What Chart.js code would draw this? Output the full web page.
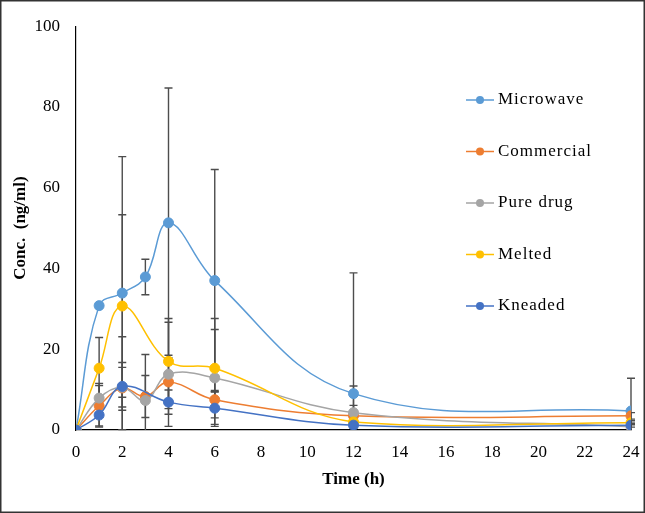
<!DOCTYPE html>
<html>
<head>
<meta charset="utf-8">
<script src="https://cdn.jsdelivr.net/npm/chart.js@4/dist/chart.umd.min.js"></script>
<style>
  body { margin: 0; background: #fff; }
  canvas { display: block; }
</style>
</head>
<body>
<canvas id="chart" width="645" height="513"></canvas>
<script>
// sampling times (h)
const times = [0, 1, 2, 3, 4, 6, 12, 24];

// mean plasma conc. (ng/ml), null = not sampled
const microwave  = [0, 30.8, 33.9, 37.9, 51.3, 37.0, 9.0, 4.7];
const commercial = [0, 6.0, 10.4, 8.3, 11.9, 7.5, 3.5, 3.5];
const pureDrug   = [0, 7.9, 10.6, 7.3, 13.8, 12.9, 4.3, 0.8];
const melted     = [0, 15.3, 30.7, null, 17.0, 15.3, 2.0, 1.8];
const kneaded    = [0, 3.7, 10.8, null, 6.9, 5.4, 1.2, 1.2];

// standard deviations
const microwaveSD  = [0, 0.5, 33.8, 4.4, 33.4, 27.5, 29.9, 8.1];
const commercialSD = [0, 5.0, 12.7, 5.2, 6.6, 2.3, 2.6, 0.8];
const pureDrugSD   = [0, 3.6, 4.9, 11.4, 12.9, 12.0, 6.6, 0.8];
const meltedSD     = [0, 7.6, 22.6, null, 10.6, 12.3, 1.0, 0.5];
const kneadedSD    = [0, 3.0, 5.9, null, 3.0, 4.0, 0.8, 0.5];

const seriesNames = ["Microwave", "Commercial", "Pure drug", "Melted", "Kneaded"];
const seriesColors = ["#5B9BD5", "#ED7D31", "#A5A5A5", "#FFC000", "#4472C4"];
const seriesValues = [microwave, commercial, pureDrug, melted, kneaded];
const seriesSD = [microwaveSD, commercialSD, pureDrugSD, meltedSD, kneadedSD];

const xTicks = [0, 2, 4, 6, 8, 10, 12, 14, 16, 18, 20, 22, 24];
const yTicks = [0, 20, 40, 60, 80, 100];

const SERIF = "'Liberation Serif', 'Times New Roman', serif";

function toPoints(vals) {
  return times.map((t, i) => ({ x: t, y: vals[i] }));
}

const datasets = seriesNames.map((name, k) => ({
  label: name,
  data: toPoints(seriesValues[k]),
  sd: seriesSD[k],
  borderColor: seriesColors[k],
  backgroundColor: seriesColors[k],
  pointBackgroundColor: seriesColors[k],
  pointBorderColor: seriesColors[k],
  borderWidth: 1.5,
  pointRadius: 5,
  pointBorderWidth: 1,
  tension: 0.4,
  spanGaps: true,
  order: seriesNames.length - k
}));

// error bars under the lines
const errorBars = {
  id: "errorBars",
  beforeDatasetsDraw(chart) {
    const { ctx, scales: { x, y } } = chart;
    ctx.save();
    ctx.strokeStyle = "#4d4d4d";
    ctx.lineWidth = 1.4;
    chart.data.datasets.forEach(ds => {
      ds.data.forEach((p, i) => {
        const sd = ds.sd[i];
        if (p.y == null || !sd) return;
        const px = x.getPixelForValue(p.x);
        const top = y.getPixelForValue(p.y + sd);
        const lo = Math.max(0, p.y - sd);
        const bot = y.getPixelForValue(lo);
        ctx.beginPath();
        ctx.moveTo(px, top);
        ctx.lineTo(px, bot);
        ctx.moveTo(px - 4, top);
        ctx.lineTo(px + 4, top);
        if (p.y - sd > 0) {
          ctx.moveTo(px - 4, bot);
          ctx.lineTo(px + 4, bot);
        }
        ctx.stroke();
      });
    });
    ctx.restore();
  }
};

// legend drawn inside the plot, plus the outer frame
const insideLegend = {
  id: "insideLegend",
  afterDraw(chart) {
    const { ctx, chartArea } = chart;
    ctx.save();
    const lx = chartArea.right - 165;
    let ly = 100;
    ctx.font = "17px " + SERIF;
    ctx.letterSpacing = "1px";
    ctx.textBaseline = "middle";
    seriesNames.forEach((name, k) => {
      ctx.strokeStyle = seriesColors[k];
      ctx.lineWidth = 1.5;
      ctx.beginPath();
      ctx.moveTo(lx, ly);
      ctx.lineTo(lx + 28, ly);
      ctx.stroke();
      ctx.fillStyle = seriesColors[k];
      ctx.beginPath();
      ctx.arc(lx + 14, ly, 4, 0, Math.PI * 2);
      ctx.fill();
      ctx.fillStyle = "#000";
      ctx.fillText(name, lx + 32, ly);
      ly += 51.5;
    });
    ctx.letterSpacing = "0px";
    ctx.strokeStyle = "#333";
    ctx.lineWidth = 1.5;
    ctx.strokeRect(0.75, 0.75, chart.width - 1.5, chart.height - 1.5);
    ctx.restore();
  }
};

new Chart(document.getElementById("chart"), {
  type: "line",
  data: { datasets },
  options: {
    responsive: false,
    animation: false,
    layout: { autoPadding: false, padding: { left: 0, top: 23, right: 14, bottom: 0 } },
    plugins: { legend: { display: false }, tooltip: { enabled: false } },
    scales: {
      x: {
        type: "linear",
        min: 0,
        max: 24,
        afterBuildTicks: s => { s.ticks = xTicks.map(v => ({ value: v })); },
        afterFit: s => { s.height = 83; s.paddingLeft = 0; s.paddingRight = 0; },
        grid: { display: false, drawTicks: false },
        border: { color: "#000", width: 1.2 },
        ticks: { color: "#000", padding: 12, font: { family: SERIF, size: 17 } },
        title: {
          display: true,
          text: "Time (h)",
          color: "#000",
          padding: { top: 0, bottom: 23 },
          font: { family: SERIF, size: 17, weight: "bold" }
        }
      },
      y: {
        min: 0,
        max: 100,
        afterBuildTicks: s => { s.ticks = yTicks.map(v => ({ value: v })); },
        afterFit: s => { s.width = 76; },
        grid: { display: false, drawTicks: false },
        border: { color: "#000", width: 1.2 },
        ticks: { color: "#000", padding: 16, font: { family: SERIF, size: 17 } },
        title: {
          display: true,
          text: "Conc.  (ng/ml)",
          color: "#000",
          padding: { top: 10, bottom: 0 },
          font: { family: SERIF, size: 17, weight: "bold" }
        }
      }
    }
  },
  plugins: [errorBars, insideLegend]
});
</script>
</body>
</html>
